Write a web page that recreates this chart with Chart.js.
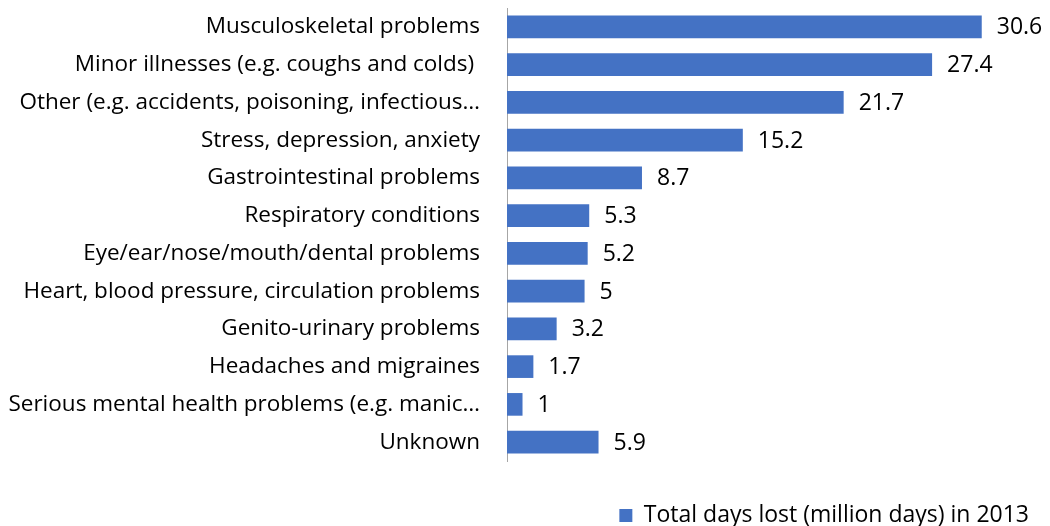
<!DOCTYPE html>
<html>
<head>
<meta charset="utf-8">
<script src="https://cdn.jsdelivr.net/npm/chart.js@4"></script>
<style>
  html, body { margin: 0; padding: 0; background: #fff; }
  #wrap { width: 1050px; height: 526px; }
</style>
</head>
<body>
<div id="wrap"><canvas id="sickChart"></canvas></div>
<script>
const categories = [
  'Musculoskeletal problems',
  'Minor illnesses (e.g. coughs and colds) ',
  'Other (e.g. accidents, poisoning, infectious…',
  'Stress, depression, anxiety',
  'Gastrointestinal problems',
  'Respiratory conditions',
  'Eye/ear/nose/mouth/dental problems',
  'Heart, blood pressure, circulation problems',
  'Genito-urinary problems',
  'Headaches and migraines',
  'Serious mental health problems (e.g. manic…',
  'Unknown'
];
const daysLost = [30.6, 27.4, 21.7, 15.2, 8.7, 5.3, 5.2, 5, 3.2, 1.7, 1, 5.9];
const seriesName = 'Total days lost (million days) in 2013';

const FONT = '"Open Sans", Lato, sans-serif';
const FONT_SIZE = 23;

// value labels past the bar ends, plus a small legend nudge
const valueLabels = {
  id: 'valueLabels',
  afterLayout(chart) {
    chart.legend.right -= 21;
    chart.legend.top += 11;
    chart.legend.bottom += 11;
  },
  afterDatasetsDraw(chart) {
    const ctx = chart.ctx;
    const meta = chart.getDatasetMeta(0);
    ctx.save();
    ctx.font = FONT_SIZE + 'px ' + FONT;
    ctx.fillStyle = '#000';
    ctx.textAlign = 'left';
    ctx.textBaseline = 'middle';
    meta.data.forEach((bar, i) => {
      ctx.fillText(String(daysLost[i]), bar.x + 15, bar.y + 1);
    });
    ctx.restore();
  }
};

new Chart(document.getElementById('sickChart').getContext('2d'), {
  type: 'bar',
  data: {
    labels: categories,
    datasets: [{
      label: seriesName,
      data: daysLost,
      backgroundColor: '#4472C4',
      categoryPercentage: 1,
      barPercentage: 0.6
    }]
  },
  options: {
    indexAxis: 'y',
    responsive: true,
    maintainAspectRatio: false,
    animation: false,
    layout: { padding: { top: 8, right: 0, bottom: 0, left: 0 } },
    scales: {
      x: {
        min: 0,
        max: 35,
        grid: { display: false },
        border: { display: false },
        ticks: { display: false },
        afterFit(scale) { scale.height = 32; scale.paddingLeft = 0; scale.paddingRight = 0; }
      },
      y: {
        grid: { display: false },
        border: { display: true, color: '#A6A6A6', width: 1 },
        ticks: { color: '#000', font: { family: FONT, size: 22.5 }, padding: 19, autoSkip: false },
        afterFit(scale) { scale.width = 507; scale.paddingTop = 0; scale.paddingBottom = 0; }
      }
    },
    plugins: {
      legend: {
        position: 'bottom',
        align: 'end',
        labels: {
          color: '#000',
          font: { family: FONT, size: FONT_SIZE },
          boxWidth: 13,
          boxHeight: 13,
          padding: 0
        }
      },
      tooltip: { enabled: false }
    }
  },
  plugins: [valueLabels]
});
</script>
</body>
</html>
